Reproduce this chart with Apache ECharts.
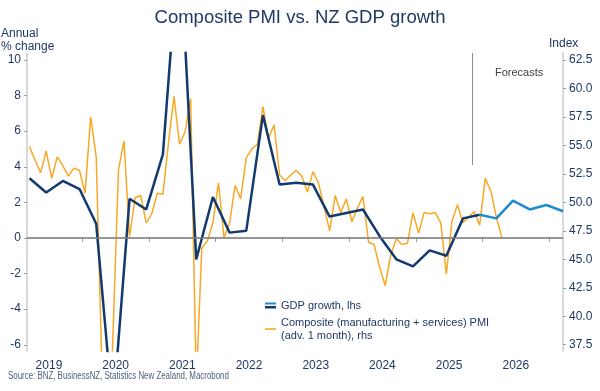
<!DOCTYPE html>
<html>
<head>
<meta charset="utf-8">
<script src="https://cdn.jsdelivr.net/npm/echarts@6/dist/echarts.min.js"></script>
<style>
html,body{margin:0;padding:0;background:#fff;}
#chart{width:600px;height:391px;}
</style>
</head>
<body>
<div id="chart"></div>
<script>
// ---------------- DATA ----------------
const pmiStart = [2019, 3]; // first month (year, month), monthly series
const pmiValues = [
  54.9, 53.7, 52.6, 54.5, 52.1, 54.0, 53.2, 52.3, 53.0, 52.8, 50.8, 57.5,
  54.0, 36.0, 26.0, 38.0, 52.8, 55.4, 47.0, 50.4, 50.6, 48.2, 49.0, 50.8,
  50.7, 55.2, 59.3, 55.1, 56.2, 59.1, 34.0, 46.0, 46.6, 48.2, 51.7, 46.9,
  48.2, 51.5, 50.3, 53.9, 54.7, 55.1, 58.4, 55.6, 56.8, 52.4, 51.9, 52.4,
  52.8, 52.3, 50.9, 52.7, 51.7, 49.6, 47.5, 50.6, 49.1, 50.3, 48.3, 49.5,
  50.5, 46.5, 46.3, 44.3, 42.7, 45.4, 46.8, 46.3, 46.4, 49.1, 47.3, 49.1,
  49.0, 49.1, 48.2, 43.7, 48.3, 49.8, 48.2, 48.7, 49.2, 48.0, 52.1, 51.0,
  48.7, 46.9
];
const gdpStart = [2019, 1]; // first quarter (year, quarter)
const gdpActual = [
  3.35, 2.55, 3.2, 2.75, 0.8, -9.8, 2.2, 1.6, 4.7, 17.0, -1.2, 2.3,
  0.3, 0.4, 6.9, 3.0, 3.1, 3.0, 1.2, 1.4, 1.6, 0.1, -1.2, -1.6,
  -0.7, -1.0, 1.1, 1.3
];
const gdpForecast = [1.1, 2.1, 1.6, 1.85, 1.5]; // 2026Q1 - 2027Q1
const yearLabels = ['2019','2020','2021','2022','2023','2024','2025','2026'];
const leftTicks = [-6, -4, -2, 0, 2, 4, 6, 8, 10];
const rightTicks = [37.5, 40, 42.5, 45, 47.5, 50, 52.5, 55, 57.5, 60, 62.5];
const forecastMarkerMonth = 82.24; // position of "Forecasts" divider (months since Jan 2019)

// ---------------- BUILD ----------------
const NAVY = '#123a6e', BLUE = '#1e8bd0', ORANGE = '#f9a825', TXT = '#1f3864';
const FONT = '"Liberation Sans", Arial, sans-serif';
function monthPos(y, m) { return (y - 2019) * 12 + (m - 1) + 0.5; }
const pmiData = pmiValues.map((v, i) => {
  const t = (pmiStart[1] - 1) + i;
  return [monthPos(pmiStart[0] + Math.floor(t / 12), (t % 12) + 1), v];
});
function quarterPos(i) {
  const q = (gdpStart[1] - 1) + i;
  return monthPos(gdpStart[0] + Math.floor(q / 4), (q % 4) * 3 + 3);
}
const gdpActData = gdpActual.map((v, i) => [quarterPos(i), v]);
const gdpFcData = [gdpActData[gdpActData.length - 1]].concat(
  gdpForecast.map((v, i) => [quarterPos(gdpActual.length + i), v]));

const xLabelPos = yearLabels.map((y, i) => 6 + 12 * i);
const xTickPos = yearLabels.map((y, i) => 12 + 12 * i);

const gdpIcon = 'image://data:image/svg+xml;utf8,' + encodeURIComponent(
  '<svg xmlns="http://www.w3.org/2000/svg" width="22" height="14">' +
  '<rect x="0" y="1" width="22" height="4" fill="' + BLUE + '"/>' +
  '<rect x="0" y="8" width="22" height="5" fill="' + NAVY + '"/></svg>');

const chart = echarts.init(document.getElementById('chart'), null, {renderer: 'canvas'});
chart.setOption({
  animation: false,
  backgroundColor: '#fff',
  title: {
    text: 'Composite PMI vs. NZ GDP growth',
    left: 'center', top: 3,
    textStyle: {fontSize: 18.5, fontWeight: 'normal', color: TXT, fontFamily: FONT}
  },
  grid: {left: 27, right: 37, top: 53, bottom: 40, containLabel: false},
  legend: {
    orient: 'vertical', left: 260, top: 294,
    itemWidth: 11, itemHeight: 7, itemGap: 4,
    textStyle: {fontSize: 11, lineHeight: 13, color: TXT, fontFamily: FONT},
    data: [
      {name: 'GDP growth, lhs', icon: gdpIcon},
      {name: 'Composite (manufacturing + services) PMI\n(adv. 1 month), rhs', icon: 'path://M0,0H20V3H0Z'}
    ]
  },
  xAxis: {
    type: 'value', min: 2.05, max: 98.49,
    axisLine: {show: true, lineStyle: {color: '#d9d9d9', width: 2}},
    axisTick: {show: true, length: 4, customValues: xTickPos, lineStyle: {color: '#8ea0bb'}},
    axisLabel: {customValues: xLabelPos, margin: 9, fontSize: 12, color: TXT, fontFamily: FONT,
      formatter: v => String(2019 + Math.round((v - 6) / 12))},
    splitLine: {show: false}
  },
  yAxis: [
    {
      type: 'value', position: 'left', min: -6.35, max: 10.39,
      axisLine: {show: true, lineStyle: {color: '#d9d9d9', width: 2}},
      axisTick: {show: true, length: 3, customValues: leftTicks, lineStyle: {color: '#8ea0bb'}},
      axisLabel: {customValues: leftTicks, margin: 6, fontSize: 12, color: TXT, fontFamily: FONT},
      splitLine: {show: false}
    },
    {
      type: 'value', position: 'right', min: 36.95, max: 63.11,
      axisLine: {show: true, lineStyle: {color: '#d9d9d9', width: 2}},
      axisTick: {show: true, length: 3, customValues: rightTicks, lineStyle: {color: '#8ea0bb'}},
      axisLabel: {customValues: rightTicks, margin: 6, fontSize: 12, color: TXT, fontFamily: FONT,
        formatter: v => v.toFixed(1)},
      splitLine: {show: false}
    }
  ],
  series: [
    {
      name: 'Composite (manufacturing + services) PMI\n(adv. 1 month), rhs',
      type: 'line', yAxisIndex: 1, data: pmiData, symbol: 'none', smooth: false,
      lineStyle: {color: ORANGE, width: 1.5}, itemStyle: {color: ORANGE}, z: 2
    },
    {
      name: 'GDP growth, lhs',
      type: 'line', yAxisIndex: 0, data: gdpActData, symbol: 'none', smooth: false,
      lineStyle: {color: NAVY, width: 2.5}, itemStyle: {color: NAVY}, z: 3,
      markLine: {
        silent: true, symbol: 'none', label: {show: false},
        lineStyle: {color: '#7f7f7f', width: 1.5, type: 'solid'},
        data: [{yAxis: 0}]
      }
    },
    {
      name: 'GDP forecast',
      type: 'line', yAxisIndex: 0, data: gdpFcData, symbol: 'none', smooth: false,
      lineStyle: {color: BLUE, width: 2.5}, itemStyle: {color: BLUE}, z: 3,
      markLine: {
        silent: true, symbol: 'none', label: {show: false},
        lineStyle: {color: '#8c8c8c', width: 1, type: 'solid'},
        data: [[{coord: [forecastMarkerMonth, 10.39]}, {coord: [forecastMarkerMonth, 4.1]}]]
      }
    }
  ],
  graphic: [
    {type: 'text', left: 1, top: 27, style: {text: 'Annual\n% change', fontSize: 12, lineHeight: 13, fill: TXT, fontFamily: FONT}},
    {type: 'text', left: 549, top: 38, style: {text: 'Index', fontSize: 12, fill: TXT, fontFamily: FONT}},
    {type: 'text', left: 495, top: 67, style: {text: 'Forecasts', fontSize: 11, fill: '#404040', fontFamily: FONT}},
    {type: 'text', x: 8, y: 371, scaleX: 0.79, style: {text: 'Source: BNZ, BusinessNZ, Statistics New Zealand, Macrobond', fontSize: 10, fill: '#4d5f7a', fontFamily: FONT}}
  ]
});
</script>
</body>
</html>
